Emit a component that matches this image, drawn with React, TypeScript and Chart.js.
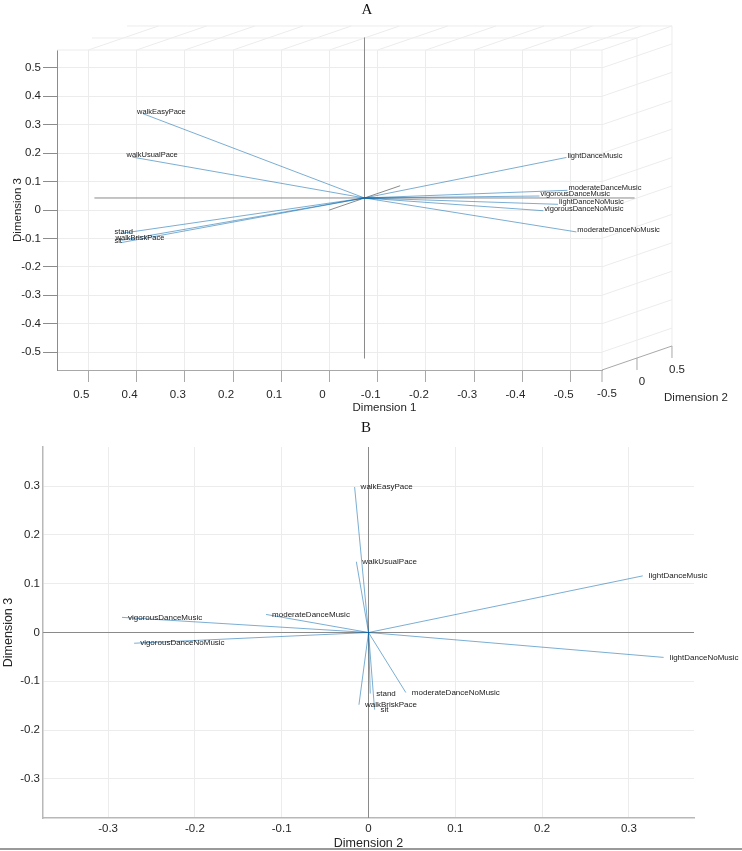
import React, { useEffect, useRef } from "react";
import { Chart, registerables } from "chart.js";

Chart.register(...registerables);

// ---------------- data ----------------
const VARIABLES = [
  "walkEasyPace",
  "walkUsualPace",
  "walkBriskPace",
  "stand",
  "sit",
  "lightDanceMusic",
  "lightDanceNoMusic",
  "moderateDanceMusic",
  "moderateDanceNoMusic",
  "vigorousDanceMusic",
  "vigorousDanceNoMusic",
];
const DIM1 = [0.457, 0.479, 0.502, 0.506, 0.507, -0.373, -0.352, -0.438, -0.433, -0.404, -0.41];
const DIM2 = [-0.016, -0.014, -0.011, 0.002, 0.007, 0.316, 0.34, -0.118, 0.043, -0.284, -0.27];
const DIM3 = [0.298, 0.145, -0.148, -0.125, -0.158, 0.116, -0.051, 0.037, -0.123, 0.031, -0.022];

// tick labels
const A_TICKS_D1 = [0.5, 0.4, 0.3, 0.2, 0.1, 0, -0.1, -0.2, -0.3, -0.4, -0.5];
const A_TICKS_D2 = [-0.5, 0, 0.5];
const A_TICKS_D3 = [-0.5, -0.4, -0.3, -0.2, -0.1, 0, 0.1, 0.2, 0.3, 0.4, 0.5];
const B_TICKS_D2 = [-0.3, -0.2, -0.1, 0, 0.1, 0.2, 0.3];
const B_TICKS_D3 = [-0.3, -0.2, -0.1, 0, 0.1, 0.2, 0.3];

// axis limits (half ranges) and reference axis-line half lengths
const A_LIMITS = [0.565, 0.5, 0.563];
const A_AXIS_HALF = [0.56, 0.51, 0.565];
const B_LIMITS = [0.375, 0.38];
const B_AXIS_HALF = [0.375, 0.38];

// oblique view of panel A: how Dimension 2 shifts a point on the back wall
const VIEW_SHEAR_X = -0.1451;
const VIEW_SHEAR_Y = 0.0845;

// ---------------- styles ----------------
const SANS = "'Liberation Sans', Arial, Helvetica, sans-serif";
const SERIF = "'Liberation Serif', 'Times New Roman', serif";
const GRID = "#ececec";
const EDGE = "#a8a8a8";
const AXIS_LINE = "#8a8a8a";
const VECTOR = "rgba(0,100,170,0.52)";
const TEXT = "#262626";

Chart.defaults.font.family = SANS;
Chart.defaults.color = TEXT;

const fmt = (v: number) => {
  const s = (Math.round(v * 10) / 10).toString();
  return s === "-0" ? "0" : s;
};

const projA = (d1: number, d2: number, d3: number) => ({
  x: d1 + VIEW_SHEAR_X * (d2 + A_LIMITS[1]),
  y: d3 + VIEW_SHEAR_Y * (d2 + A_LIMITS[1]),
});

const lineDs = (pts: { x: number; y: number }[], color: string, order: number) => ({
  data: pts,
  showLine: true,
  pointRadius: 0,
  pointHoverRadius: 0,
  borderColor: color,
  borderWidth: 1,
  clip: false as any,
  order,
});

// ---------------- panel A (3-D view) ----------------
const box3dPlugin = {
  id: "box3d",
  beforeDatasetsDraw(chart: any) {
    const { ctx } = chart;
    const xs = chart.scales.x;
    const ys = chart.scales.y;
    const P = (a: number, b: number, c: number) => {
      const q = projA(a, b, c);
      return [xs.getPixelForValue(q.x), ys.getPixelForValue(q.y)];
    };
    const seg = (p: number[], q: number[], color: string, w = 1) => {
      ctx.beginPath();
      ctx.strokeStyle = color;
      ctx.lineWidth = w;
      ctx.moveTo(p[0], p[1]);
      ctx.lineTo(q[0], q[1]);
      ctx.stroke();
    };
    const [L1, L2, L3] = A_LIMITS;
    ctx.save();
    // top wall
    for (const t of A_TICKS_D1) seg(P(t, -L2, L3), P(t, L2, L3), GRID);
    for (const t of A_TICKS_D2) seg(P(L1, t, L3), P(-L1, t, L3), GRID);
    // side wall
    for (const t of A_TICKS_D3) seg(P(-L1, -L2, t), P(-L1, L2, t), GRID);
    for (const t of A_TICKS_D2) seg(P(-L1, t, -L3), P(-L1, t, L3), GRID);
    seg(P(-L1, -L2, L3), P(-L1, L2, L3), GRID);
    // Dimension 2 axis
    seg(P(-L1, -L2, -L3), P(-L1, L2, -L3), EDGE);
    ctx.fillStyle = TEXT;
    ctx.font = `11.5px ${SANS}`;
    ctx.textAlign = "center";
    ctx.textBaseline = "middle";
    for (const t of A_TICKS_D2) {
      const p = P(-L1, t, -L3);
      seg(p, [p[0], p[1] + 12], EDGE);
      ctx.fillText(fmt(t), p[0] + 5, p[1] + 24);
    }
    ctx.restore();
  },
  afterDraw(chart: any) {
    const { ctx, chartArea } = chart;
    const xs = chart.scales.x;
    const ys = chart.scales.y;
    ctx.save();
    // vector labels
    ctx.font = `7.5px ${SANS}`;
    ctx.fillStyle = "#1a1a1a";
    ctx.textAlign = "left";
    ctx.textBaseline = "middle";
    VARIABLES.forEach((name, i) => {
      const q = projA(DIM1[i], DIM2[i], DIM3[i]);
      const px = xs.getPixelForValue(q.x);
      const py = ys.getPixelForValue(q.y);
      ctx.fillText(name, px + (DIM1[i] > 0 ? -6 : 1), py - 2);
    });
    // axis titles
    ctx.font = `11.5px ${SANS}`;
    ctx.fillStyle = TEXT;
    ctx.textAlign = "center";
    ctx.fillText("Dimension 1", (chartArea.left + chartArea.right) / 2 + 55, chartArea.bottom + 38);
    const q = projA(-A_LIMITS[0], 0, -A_LIMITS[2]);
    ctx.fillText("Dimension 2", xs.getPixelForValue(q.x) + 59, ys.getPixelForValue(q.y) + 40);
    ctx.restore();
  },
};

function makeChartA(canvas: HTMLCanvasElement) {
  const axes = [
    [projA(A_AXIS_HALF[0], 0, 0), projA(-A_AXIS_HALF[0], 0, 0)],
    [projA(0, -A_AXIS_HALF[1], 0), projA(0, A_AXIS_HALF[1], 0)],
    [projA(0, 0, -A_AXIS_HALF[2]), projA(0, 0, A_AXIS_HALF[2])],
  ].map((pts) => lineDs(pts, AXIS_LINE, 1));
  const vectors = VARIABLES.map((_, i) =>
    lineDs([projA(0, 0, 0), projA(DIM1[i], DIM2[i], DIM3[i])], VECTOR, 0)
  );
  return new Chart(canvas, {
    type: "scatter",
    data: { datasets: [...vectors, ...axes] as any },
    options: {
      animation: false,
      responsive: false,
      maintainAspectRatio: false,
      events: [],
      layout: { padding: { left: 0, top: 50, right: 140, bottom: 0 } },
      plugins: { legend: { display: false }, tooltip: { enabled: false } },
      scales: {
        x: {
          type: "linear",
          reverse: true,
          min: -A_LIMITS[0],
          max: A_LIMITS[0],
          afterBuildTicks: (s: any) => {
            s.ticks = A_TICKS_D1.map((v) => ({ value: v }));
          },
          afterFit: (s: any) => {
            s.height = 50;
          },
          ticks: {
            callback: (v: any) => fmt(Number(v)),
            font: { size: 11.5 },
            color: TEXT,
            padding: 6,
            labelOffset: -7,
            autoSkip: false,
            maxRotation: 0,
          },
          grid: { color: GRID, tickColor: EDGE, tickLength: 12, drawTicks: true },
          border: { display: true, color: EDGE, width: 1 },
        },
        y: {
          type: "linear",
          min: -A_LIMITS[2],
          max: A_LIMITS[2],
          afterBuildTicks: (s: any) => {
            s.ticks = A_TICKS_D3.map((v) => ({ value: v }));
          },
          afterFit: (s: any) => {
            s.width = 57;
          },
          ticks: {
            callback: (v: any) => fmt(Number(v)),
            font: { size: 11.5 },
            color: TEXT,
            padding: 2,
            autoSkip: false,
          },
          grid: { color: GRID, tickColor: "#8c8c8c", tickLength: 14, drawTicks: true },
          border: { display: true, color: "#8c8c8c", width: 1 },
          title: {
            display: true,
            text: "Dimension 3",
            font: { size: 11.5 },
            color: TEXT,
            padding: { top: 11, bottom: 0 },
          },
        },
      },
    } as any,
    plugins: [box3dPlugin],
  });
}

// ---------------- panel B (2-D view) ----------------
const labelsBPlugin = {
  id: "labelsB",
  afterDatasetsDraw(chart: any) {
    const { ctx } = chart;
    const xs = chart.scales.x;
    const ys = chart.scales.y;
    ctx.save();
    ctx.font = `8px ${SANS}`;
    ctx.fillStyle = "#1a1a1a";
    ctx.textAlign = "left";
    ctx.textBaseline = "middle";
    VARIABLES.forEach((name, i) => {
      ctx.fillText(name, xs.getPixelForValue(DIM2[i]) + 6, ys.getPixelForValue(DIM3[i]));
    });
    ctx.restore();
  },
};

function makeChartB(canvas: HTMLCanvasElement) {
  const axes = [
    [{ x: -B_AXIS_HALF[0], y: 0 }, { x: B_AXIS_HALF[0], y: 0 }],
    [{ x: 0, y: -B_AXIS_HALF[1] }, { x: 0, y: B_AXIS_HALF[1] }],
  ].map((pts) => lineDs(pts, AXIS_LINE, 1));
  const vectors = VARIABLES.map((_, i) =>
    lineDs([{ x: 0, y: 0 }, { x: DIM2[i], y: DIM3[i] }], VECTOR, 0)
  );
  return new Chart(canvas, {
    type: "scatter",
    data: { datasets: [...vectors, ...axes] as any },
    options: {
      animation: false,
      responsive: false,
      maintainAspectRatio: false,
      events: [],
      layout: { padding: { left: 0, top: 27, right: 48, bottom: 0 } },
      plugins: { legend: { display: false }, tooltip: { enabled: false } },
      scales: {
        x: {
          type: "linear",
          min: -B_LIMITS[0],
          max: B_LIMITS[0],
          afterBuildTicks: (s: any) => {
            s.ticks = B_TICKS_D2.map((v) => ({ value: v }));
          },
          afterFit: (s: any) => {
            s.height = 33;
          },
          ticks: {
            callback: (v: any) => fmt(Number(v)),
            font: { size: 11.5 },
            color: TEXT,
            padding: 4,
            autoSkip: false,
            maxRotation: 0,
          },
          grid: { color: GRID, drawTicks: false },
          border: { display: true, color: "#b8b8b8", width: 1.5 },
          title: {
            display: true,
            text: "Dimension 2",
            font: { size: 12.5 },
            color: TEXT,
            padding: { top: 0, bottom: 0 },
          },
        },
        y: {
          type: "linear",
          min: -B_LIMITS[1],
          max: B_LIMITS[1],
          afterBuildTicks: (s: any) => {
            s.ticks = B_TICKS_D3.map((v) => ({ value: v }));
          },
          afterFit: (s: any) => {
            s.width = 43;
          },
          ticks: {
            callback: (v: any) => fmt(Number(v)),
            font: { size: 11.5 },
            color: TEXT,
            padding: 3,
            autoSkip: false,
          },
          grid: { color: GRID, drawTicks: false },
          border: { display: true, color: "#b8b8b8", width: 1.5 },
          title: {
            display: true,
            text: "Dimension 3",
            font: { size: 12.5 },
            color: TEXT,
            padding: { top: 1.5, bottom: 0 },
          },
        },
      },
    } as any,
    plugins: [labelsBPlugin],
  });
}

// ---------------- component ----------------
export default function App() {
  const refA = useRef<HTMLCanvasElement>(null);
  const refB = useRef<HTMLCanvasElement>(null);

  useEffect(() => {
    const a = makeChartA(refA.current as HTMLCanvasElement);
    const b = makeChartB(refB.current as HTMLCanvasElement);
    return () => {
      a.destroy();
      b.destroy();
    };
  }, []);

  const panelTitle: React.CSSProperties = {
    position: "absolute",
    transform: "translate(-50%, -50%)",
    fontFamily: SERIF,
    fontSize: 15,
    color: "#111",
    lineHeight: 1,
  };

  return (
    <div style={{ position: "absolute", left: 0, top: 0, width: 742, height: 851, background: "#fff", overflow: "hidden" }}>
      <canvas
        ref={refA}
        width={742}
        height={420}
        style={{ position: "absolute", left: 0, top: 0, width: 742, height: 420 }}
      />
      <canvas
        ref={refB}
        width={742}
        height={431}
        style={{ position: "absolute", left: 0, top: 420, width: 742, height: 431 }}
      />
      <div style={{ ...panelTitle, left: 367, top: 9 }}>A</div>
      <div style={{ ...panelTitle, left: 366, top: 427 }}>B</div>
      <div style={{ position: "absolute", left: 0, top: 848, width: 742, height: 2, background: "#9a9a9a" }} />
    </div>
  );
}
